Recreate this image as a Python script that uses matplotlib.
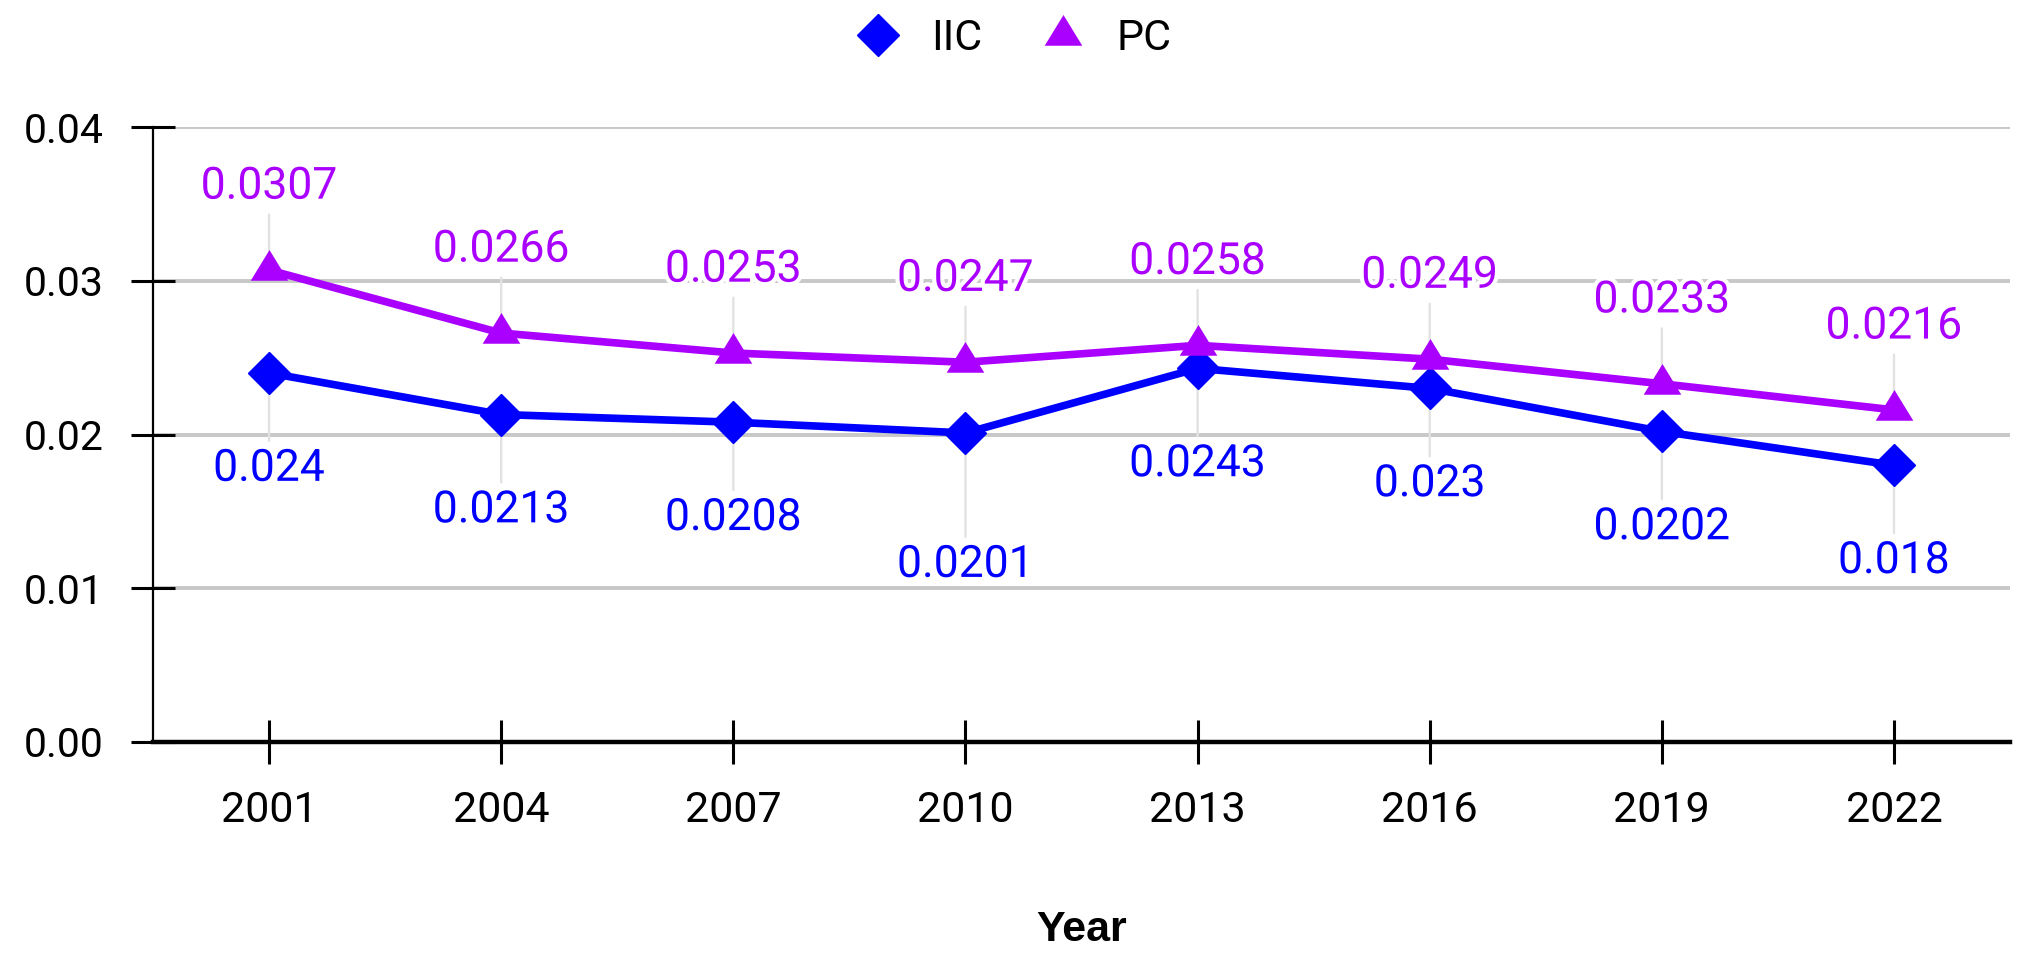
import matplotlib
matplotlib.use("Agg")
import matplotlib.pyplot as plt
from matplotlib.lines import Line2D
import matplotlib.patheffects as pe

plt.rcParams['font.family'] = ['Roboto', 'DejaVu Sans']

years = [2001, 2004, 2007, 2010, 2013, 2016, 2019, 2022]
iic = [0.024, 0.0213, 0.0208, 0.0201, 0.0243, 0.023, 0.0202, 0.018]
pc = [0.0307, 0.0266, 0.0253, 0.0247, 0.0258, 0.0249, 0.0233, 0.0216]
yticks = [0.00, 0.01, 0.02, 0.03, 0.04]
ytick_labels = ['0.00', '0.01', '0.02', '0.03', '0.04']

blue = '#0000ff'
purple = '#aa00ff'
# triangle centred on its centroid
tri = [(-0.918, -0.5), (0.918, -0.5), (0, 1.0)]

fig = plt.figure(figsize=(20.32, 9.66), dpi=100)
ax = fig.add_axes([0.0753, 0.2319, 0.9139, 0.6366])

ax.plot(years, iic, color=blue, lw=5.5, marker='D', ms=21, mew=1, zorder=4)
ax.plot(years, pc, color=purple, lw=5.5, marker=tri, ms=29.5, mew=0, zorder=4)

halo = [pe.withStroke(linewidth=6, foreground='white')]
lead = dict(arrowstyle='-', color='#e2e2e2', lw=1.7, shrinkA=3, shrinkB=0)

for x, v in zip(years, pc):
    ax.annotate(str(v), (x, v), xytext=(0, 60), textcoords='offset points',
                ha='center', va='center', fontsize=32, color=purple,
                arrowprops=lead, path_effects=halo, zorder=3)

for x, v in zip(years, iic):
    off = -95 if x == 2010 else -69
    ax.annotate(str(v), (x, v), xytext=(0, off), textcoords='offset points',
                ha='center', va='center', fontsize=32, color=blue,
                arrowprops=lead, path_effects=halo, zorder=3)

ax.set_xlim(1999.5, 2023.5)
ax.set_ylim(0, 0.04)
ax.set_xticks(years)
ax.set_xticklabels([str(y) for y in years])
ax.set_yticks(yticks)
ax.set_yticklabels(ytick_labels)

ax.grid(axis='y', color='#c8c8c8', lw=2.8)
ax.set_axisbelow(True)
for s in ['top', 'right']:
    ax.spines[s].set_visible(False)
ax.spines['left'].set_bounds(0, 0.04)
ax.spines['left'].set_linewidth(1.6)
ax.spines['bottom'].set_linewidth(3.2)
ax.spines['bottom'].set_zorder(2)

ax.tick_params(axis='y', direction='inout', length=31, width=2.2, pad=20, labelsize=29.5)
ax.tick_params(axis='x', direction='inout', length=31, width=2.2, pad=19, labelsize=31)

ax.set_xlabel('Year', fontsize=31, fontweight='bold', family=['Liberation Sans', 'DejaVu Sans'])
ax.xaxis.set_label_coords(0.5, -0.306)
ax.xaxis.label.set_va('center')

handles = [Line2D([], [], ls='none', marker='D', ms=21, color=blue, mew=1),
           Line2D([], [], ls='none', marker=tri, ms=29.5, color=purple, mew=0)]
fig.legend(handles, ['IIC', 'PC'], loc='center', bbox_to_anchor=(0.499, 0.96),
           ncol=2, frameon=False, fontsize=31, handlelength=1.0,
           handletextpad=0.73, columnspacing=1.38)

fig.savefig('out.png', dpi=100)
